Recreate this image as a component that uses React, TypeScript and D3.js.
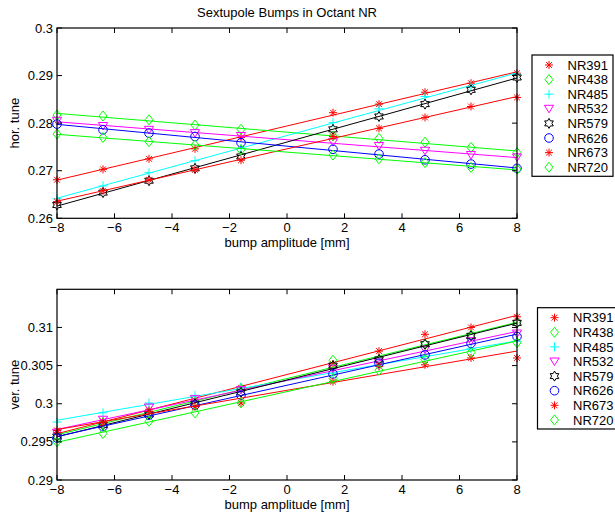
import React from "react";
import * as d3 from "d3";

// ---------- data ----------
const bumpAmp = [-8, -6.4, -4.8, -3.2, -1.6, 1.6, 3.2, 4.8, 6.4, 8];
const seriesNames = ["NR391", "NR438", "NR485", "NR532", "NR579", "NR626", "NR673", "NR720"];

// horizontal tune
const hor391 = [0.2681, 0.2703, 0.2725, 0.2746, 0.2770, 0.2822, 0.2840, 0.2865, 0.2884, 0.2905];
const hor438 = [0.2817, 0.2815, 0.2807, 0.2796, 0.2787, 0.2773, 0.2768, 0.2760, 0.2749, 0.2738];
const hor485 = [0.2641, 0.2668, 0.2696, 0.2721, 0.2747, 0.2801, 0.2830, 0.2856, 0.2877, 0.2903];
const hor532 = [0.2805, 0.2794, 0.2786, 0.2779, 0.2773, 0.2760, 0.2752, 0.2742, 0.2733, 0.2728];
const hor579 = [0.2628, 0.2654, 0.2679, 0.2705, 0.2730, 0.2787, 0.2814, 0.2840, 0.2870, 0.2896];
const hor626 = [0.2798, 0.2786, 0.2779, 0.2772, 0.2759, 0.2745, 0.2735, 0.2723, 0.2714, 0.2705];
const hor673 = [0.2635, 0.2658, 0.2681, 0.2702, 0.2722, 0.2772, 0.2789, 0.2812, 0.2835, 0.2854];
const hor720 = [0.2777, 0.2770, 0.2761, 0.2754, 0.2744, 0.2733, 0.2725, 0.2717, 0.2707, 0.2703];

// vertical tune
const ver391 = [0.2962, 0.2977, 0.2992, 0.3005, 0.3021, 0.3052, 0.3069, 0.3091, 0.3100, 0.3114];
const ver438 = [0.2957, 0.2975, 0.2988, 0.3002, 0.3020, 0.3057, 0.3057, 0.3078, 0.3090, 0.3106];
const ver485 = [0.2976, 0.2988, 0.3001, 0.3011, 0.3022, 0.3040, 0.3050, 0.3062, 0.3072, 0.3082];
const ver532 = [0.2962, 0.2979, 0.2995, 0.3006, 0.3018, 0.3046, 0.3054, 0.3071, 0.3082, 0.3092];
const ver579 = [0.2957, 0.2972, 0.2986, 0.3000, 0.3015, 0.3050, 0.3058, 0.3078, 0.3089, 0.3106];
const ver626 = [0.2955, 0.2970, 0.2985, 0.2998, 0.3011, 0.3039, 0.3053, 0.3064, 0.3079, 0.3088];
const ver673 = [0.2965, 0.2975, 0.2990, 0.2996, 0.3001, 0.3029, 0.3049, 0.3051, 0.3060, 0.3060];
const ver720 = [0.2950, 0.2961, 0.2977, 0.2988, 0.3001, 0.3033, 0.3044, 0.3058, 0.3067, 0.3080];

const horSeries = [hor391, hor438, hor485, hor532, hor579, hor626, hor673, hor720];
const verSeries = [ver391, ver438, ver485, ver532, ver579, ver626, ver673, ver720];

const xTicks = [-8, -6, -4, -2, 0, 2, 4, 6, 8];
const horTicks = [0.26, 0.27, 0.28, 0.29, 0.3];
const verTicks = [0.29, 0.295, 0.3, 0.305, 0.31];

const titleText = "Sextupole Bumps in Octant NR";
const xLabel = "bump amplitude [mm]";

// ---------- styles ----------
const colors = ["#ff0000", "#00ff00", "#00ffff", "#ff00ff", "#000000", "#0000ff", "#ff0000", "#00ff00"];
const markers = ["asterisk", "diamond", "plus", "triangle", "hexagram", "circle", "asterisk", "diamond"];
const FONT = "'Liberation Sans', Arial, Helvetica, sans-serif";
const FS = 13;

function markerPath(type: string, cx: number, cy: number): string {
  const p = d3.path();
  if (type === "asterisk") {
    const s = 4;
    const d = s * 0.72;
    p.moveTo(cx - s, cy); p.lineTo(cx + s, cy);
    p.moveTo(cx, cy - s); p.lineTo(cx, cy + s);
    p.moveTo(cx - d, cy - d); p.lineTo(cx + d, cy + d);
    p.moveTo(cx - d, cy + d); p.lineTo(cx + d, cy - d);
  } else if (type === "plus") {
    const s = 4.5;
    p.moveTo(cx - s, cy); p.lineTo(cx + s, cy);
    p.moveTo(cx, cy - s); p.lineTo(cx, cy + s);
  } else if (type === "diamond") {
    p.moveTo(cx, cy - 5); p.lineTo(cx + 4, cy); p.lineTo(cx, cy + 5); p.lineTo(cx - 4, cy); p.closePath();
  } else if (type === "triangle") {
    p.moveTo(cx - 4.6, cy - 3.5); p.lineTo(cx + 4.6, cy - 3.5); p.lineTo(cx, cy + 4); p.closePath();
  } else if (type === "circle") {
    p.moveTo(cx + 4.3, cy); p.arc(cx, cy, 4.3, 0, Math.PI * 2);
  } else if (type === "hexagram") {
    const R = 5, r = R / Math.sqrt(3);
    for (let k = 0; k < 12; k++) {
      const ang = -Math.PI / 2 + (k * Math.PI) / 6;
      const rad = k % 2 === 0 ? R : r;
      const px = cx + rad * Math.cos(ang), py = cy + rad * Math.sin(ang);
      if (k === 0) p.moveTo(px, py); else p.lineTo(px, py);
    }
    p.closePath();
  }
  return p.toString();
}

function fit(xs: number[], ys: number[]) {
  const mx = d3.mean(xs)!, my = d3.mean(ys)!;
  let sxy = 0, sxx = 0;
  xs.forEach((x, i) => { sxy += (x - mx) * (ys[i] - my); sxx += (x - mx) * (x - mx); });
  const b = sxy / sxx;
  return (x: number) => my + b * (x - mx);
}

type PanelProps = {
  top: number; bottom: number; domain: [number, number]; ticks: number[];
  series: number[][]; yLabel: string; legendX: number; legendTop: number; legendW: number;
};

const LEFT = 57, RIGHT = 517;

function Panel({ top, bottom, domain, ticks, series, yLabel, legendX, legendTop, legendW }: PanelProps) {
  const x = d3.scaleLinear().domain([-8, 8]).range([LEFT, RIGHT]);
  const y = d3.scaleLinear().domain(domain).range([bottom, top]);
  const line = d3.line<[number, number]>().x(d => x(d[0])).y(d => y(d[1]));
  const tl = 5;
  const rowH = 14.6;
  const legendH = 121.3;
  return (
    <g>
      {/* series */}
      {series.map((ys, si) => {
        const f = fit(bumpAmp, ys);
        return (
          <g key={si}>
            <path d={line([[-8, f(-8)], [8, f(8)]])!} stroke={colors[si]} strokeWidth={1} fill="none" />
            {bumpAmp.map((bx, i) => (
              <path key={i} d={markerPath(markers[si], x(bx), y(ys[i]))} stroke={colors[si]} strokeWidth={1} fill="none" />
            ))}
          </g>
        );
      })}
      {/* axes box */}
      <rect x={LEFT} y={top} width={RIGHT - LEFT} height={bottom - top} fill="none" stroke="#000" strokeWidth={1.2} />
      {xTicks.map(t => (
        <g key={"x" + t}>
          <line x1={x(t)} x2={x(t)} y1={bottom} y2={bottom - tl} stroke="#000" />
          <line x1={x(t)} x2={x(t)} y1={top} y2={top + tl} stroke="#000" />
          <text x={x(t)} y={bottom + 14} textAnchor="middle" fontFamily={FONT} fontSize={FS}>
            {t < 0 ? "\u2212" + Math.abs(t) : String(t)}
          </text>
        </g>
      ))}
      {ticks.map(t => (
        <g key={"y" + t}>
          <line x1={LEFT} x2={LEFT + tl} y1={y(t)} y2={y(t)} stroke="#000" />
          <line x1={RIGHT} x2={RIGHT - tl} y1={y(t)} y2={y(t)} stroke="#000" />
          <text x={LEFT - 4} y={y(t)} dy="0.35em" textAnchor="end" fontFamily={FONT} fontSize={FS}>
            {String(+t.toFixed(3))}
          </text>
        </g>
      ))}
      <text x={(LEFT + RIGHT) / 2} y={bottom + 29} textAnchor="middle" fontFamily={FONT} fontSize={FS}>{xLabel}</text>
      <text transform={`translate(19,${(top + bottom) / 2}) rotate(-90)`} textAnchor="middle" fontFamily={FONT} fontSize={FS}>{yLabel}</text>
      {/* legend */}
      <rect x={legendX} y={legendTop} width={legendW} height={legendH} fill="#fff" stroke="#000" strokeWidth={1.2} />
      {seriesNames.map((n, i) => {
        const cy = legendTop + 10 + i * rowH;
        return (
          <g key={n}>
            <path d={markerPath(markers[i], legendX + 17, cy)} stroke={colors[i]} strokeWidth={1} fill="none" />
            <text x={legendX + 35.5} y={cy} dy="0.36em" fontFamily={FONT} fontSize={FS}>{n}</text>
          </g>
        );
      })}
    </g>
  );
}

export default function App() {
  return (
    <svg width={615} height={519} style={{ position: "absolute", left: 0, top: 0, background: "#fff" }}>
      <rect x={0} y={0} width={615} height={519} fill="#fff" />
      <text x={(LEFT + RIGHT) / 2} y={17} textAnchor="middle" fontFamily={FONT} fontSize={FS}>{titleText}</text>
      <Panel top={28} bottom={218.3} domain={[0.26, 0.3]} ticks={horTicks} series={horSeries}
        yLabel="hor. tune" legendX={532} legendTop={55} legendW={81} />
      <Panel top={289.3} bottom={480} domain={[0.29, 0.315]} ticks={verTicks} series={verSeries}
        yLabel="ver. tune" legendX={537.5} legendTop={307.7} legendW={81} />
    </svg>
  );
}
